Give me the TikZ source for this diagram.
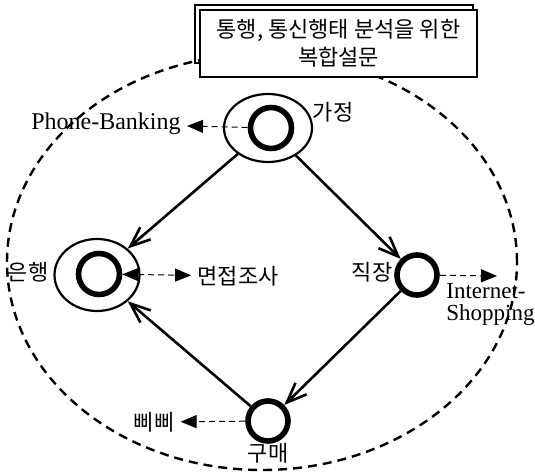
\documentclass[tikz,border=0pt]{standalone}
\usepackage{fontspec}
\setmainfont{Liberation Serif}
\newfontfamily\kr{Noto Sans CJK KR}
\usetikzlibrary{shapes.geometric,arrows.meta}
\tikzset{
  boundary/.style={line width=1.2pt,dash pattern=on 4.5pt off 3pt},
  titlebox/.style={draw,fill=white,line width=0.7pt,minimum width=138.5pt,minimum height=33.5pt,align=center,inner sep=0pt},
  outerring/.style={ellipse,draw,line width=1.1pt,inner sep=0pt},
  ring/.style={circle,draw,line width=2.8pt,minimum size=20.5pt,inner sep=0pt},
  flow/.style={line width=1.3pt,-{Straight Barb[length=10pt,width=8pt]}},
  side/.style={line width=0.5pt,densely dashed,-{Triangle[length=8pt,width=6.5pt]}},
  krlbl/.style={font=\kr\fontsize{11}{12}\selectfont,inner sep=3pt},
  enlbl/.style={font=\fontsize{12}{10}\selectfont,inner sep=3pt}
}
\begin{document}
\begin{tikzpicture}[x=0.5pt,y=-0.5pt]
  \useasboundingbox (0,0) rectangle (535,475);
  % survey area
  \draw[boundary] (262,262) ellipse [x radius=127.5pt, y radius=104pt];

  \draw[line width=0.7pt] (195,5) rectangle (473,63);
  \node[titlebox,font=\kr\fontsize{11}{14}\selectfont] (title) at (338.5,43.5)
    {통행, 통신행태 분석을 위한\\복합설문};

  % places
  \node[outerring,minimum width=44pt,minimum height=34pt] (gajeongO) at (268,128) {};
  \node[ring] (gajeong) at (271,128) {};
  \node[outerring,minimum width=42.5pt,minimum height=36pt] (eunhaengO) at (97,275) {};
  \node[ring] (eunhaeng) at (99,274) {};
  \node[ring,minimum size=20pt] (jikjang) at (417,275) {};
  \node[ring,minimum size=20pt] (gumae) at (268,421) {};

  \node[krlbl] (gajeongL) at (333,112) {가정};
  \node[krlbl] (eunhaengL) at (28,272) {은행};
  \node[krlbl] (jikjangL) at (372,272) {직장};
  \node[krlbl] (gumaeL) at (268,453) {구매};

  % trips
  \draw[flow] (gajeongO) -- (eunhaengO);
  \draw[flow] (gajeongO) -- (jikjang);
  \draw[flow] (jikjang) -- ([xshift=6pt]gumae);
  \draw[flow] (gumae) -- (eunhaengO);

  % communication
  \node[enlbl] (phone) at (106,124) {Phone-Banking};
  \draw[side] (gajeong) -- (phone);
  \node[krlbl] (interview) at (238,276) {면접조사};
  \draw[side,{Triangle[length=8pt,width=6.5pt]}-{Triangle[length=8pt,width=6.5pt]}] (eunhaeng) -- (interview);
  \coordinate (inetTip) at (497,276);
  \draw[side] (jikjang) -- (inetTip);
  \node[enlbl,font=\fontsize{11.5}{11}\selectfont,anchor=north west,align=left,inner sep=0pt] (inet) at (446,283) {Internet-\\Shopping};
  \node[krlbl] (beeper) at (154,422) {삐삐};
  \draw[side] (gumae) -- (beeper);
\end{tikzpicture}
\end{document}
